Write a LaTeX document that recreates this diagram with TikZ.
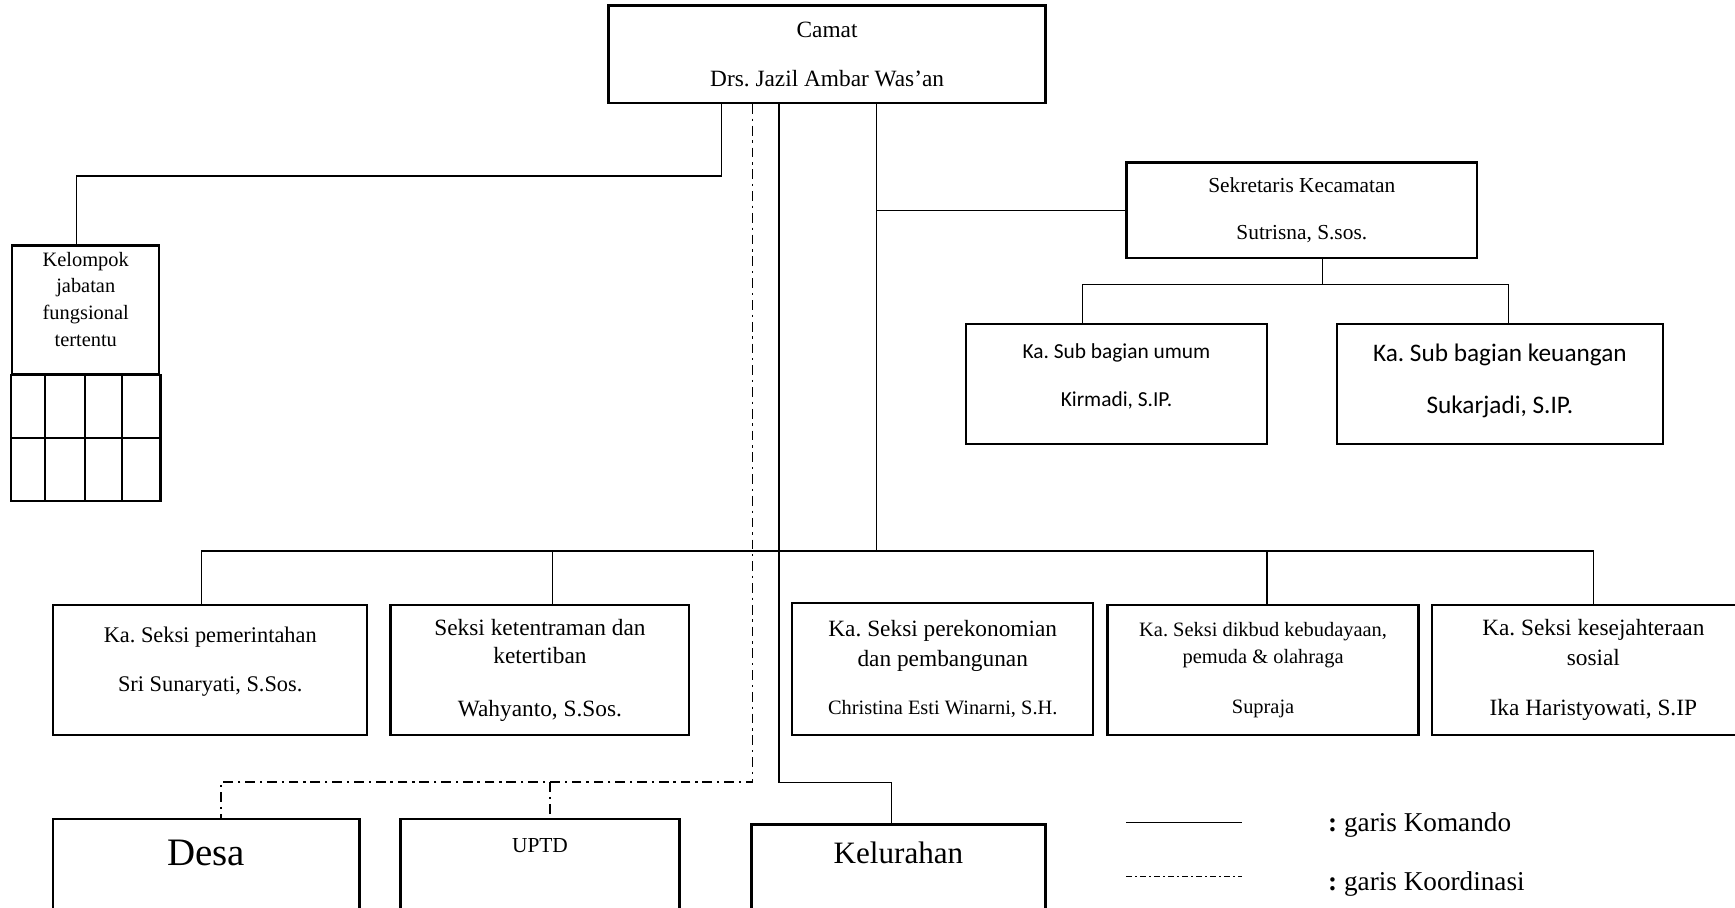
\documentclass[tikz,border=0pt]{standalone}
\usepackage{fontspec}
\setmainfont{Liberation Serif}
\newfontfamily\calibri{Carlito}
\usetikzlibrary{calc}
\newcommand{\padb}[1]{\rule[-#1]{0pt}{#1}}
\frenchspacing

\begin{document}
\begin{tikzpicture}[
    x=0.02cm, y=-0.02cm,
    box/.style={draw, rectangle, line width=1.2pt, align=center, inner sep=2pt},
    boxline/.style={line width=1.2pt},
    cmd/.style={line width=0.6pt},
    koord/.style={line width=0.9pt, dash pattern=on 5pt off 2.5pt on 1.2pt off 2.5pt},
    koordleg/.style={line width=0.8pt, dash pattern=on 3pt off 1.6pt on 1pt off 1.6pt},
    legend/.style={anchor=west, inner sep=0pt, font=\fontsize{14}{16}\selectfont}
]
\useasboundingbox (0,0) rectangle (1568,820);
\clip (0,0) rectangle (1568,820);

% Top: Camat
\node[box, minimum width=7.9cm, minimum height=1.76cm, font=\fontsize{12}{14}\selectfont] (camat) at (747.5,49) {Camat\\[11pt]Drs. Jazil Ambar Was'an};

% Left: Kelompok jabatan fungsional
\node[box, minimum width=2.66cm, minimum height=2.32cm, font=\fontsize{10.5}{13.7}\selectfont] (kelompok) at (77.5,280) {Kelompok\\jabatan\\fungsional\\tertentu\padb{11pt}};
\draw[boxline] (kelompok.south west) rectangle ($(kelompok.south east)+(0,114)$);
\draw[boxline] ($(kelompok.south west)+(0,57)$) -- ($(kelompok.south east)+(0,57)$);
\foreach \dx in {31,67,100}
    \draw[boxline] ($(kelompok.south west)+(\dx,0)$) -- ++(0,114);

% Right: Sekretaris and sub bagian
\node[box, minimum width=6.34cm, minimum height=1.72cm, font=\fontsize{11}{13}\selectfont] (sekcam) at (1176.5,190) {Sekretaris Kecamatan\\[11.5pt]Sutrisna, S.sos.};
\node[box, minimum width=5.44cm, minimum height=2.16cm, font=\calibri\fontsize{11}{13}\selectfont] (subumum) at (1009,347) {Ka. Sub bagian umum\\[12pt]Kirmadi, S.IP.\padb{9pt}};
\node[box, minimum width=5.9cm, minimum height=2.16cm, font=\calibri\fontsize{13}{15.5}\selectfont] (subkeu) at (1355.5,347) {Ka. Sub bagian keuangan\\[11.2pt]Sukarjadi, S.IP.\padb{5pt}};

% Row of seksi
\node[box, minimum width=5.68cm, minimum height=2.34cm, font=\fontsize{11.5}{14}\selectfont] (pemerintahan) at (190,605.5) {Ka. Seksi pemerintahan\\[11pt]Sri Sunaryati, S.Sos.\padb{11pt}};
\node[box, minimum width=5.4cm, minimum height=2.34cm, font=\fontsize{12}{14.8}\selectfont] (ketentraman) at (488,605.5) {Seksi ketentraman dan\\ketertiban\\[12pt]Wahyanto, S.Sos.};
\node[box, minimum width=5.44cm, minimum height=2.38cm, font=\fontsize{12}{15.4}\selectfont] (perekonomian) at (852,604.5) {Ka. Seksi perekonomian\\dan pembangunan\\[9.6pt]{\fontsize{10.5}{15.4}\selectfont Christina Esti Winarni, S.H.}};
\node[box, minimum width=5.62cm, minimum height=2.34cm, font=\fontsize{10.5}{13.7}\selectfont] (dikbud) at (1141.5,605.5) {Ka. Seksi dikbud kebudayaan,\\pemuda \& olahraga\\[12pt]Supraja};
\node[box, minimum width=5.84cm, minimum height=2.34cm, font=\fontsize{12}{15.4}\selectfont] (kesejahteraan) at (1440,605.5) {Ka. Seksi kesejahteraan\\sosial\\[10.6pt]Ika Haristyowati, S.IP};

% Bottom row
\node[box, minimum width=5.54cm, minimum height=2.4cm, font=\fontsize{20}{22}\selectfont] (desa) at (186.5,800) {Desa\padb{33pt}};
\node[box, minimum width=5.04cm, minimum height=2.4cm, font=\fontsize{11}{13}\selectfont] (uptd) at (488,800) {UPTD\padb{41pt}};
\node[box, minimum width=5.32cm, minimum height=2.4cm, font=\fontsize{16}{18}\selectfont] (kelurahan) at (812,805) {Kelurahan\padb{39pt}};

% Legend
\node[legend] (lgkom) at (1200,746) {\textbf{:} garis Komando};
\node[legend] (lgkoor) at (1200,799) {\textbf{:} garis Koordinasi};
\draw[cmd] ($(lgkom.west)+(-182,-3)$) -- ++(104,0);
\draw[koordleg] ($(lgkoor.west)+(-182,-7)$) -- ++(104,0);

% Connections
\coordinate (bus) at (792,498);
\coordinate (kcor) at (680,707);
\coordinate (kcmd) at (704,707);
\coordinate (sj) at ($(sekcam.south)+(18.5,23)$);
\coordinate (kt) at ($(ketentraman.north)+(11,0)$);
\coordinate (ku) at ($(uptd.north)+(9,0)$);

\draw[cmd] ($(camat.south west)+(103,0)$) -- ++(0,65) -| ($(kelompok.north west)+(59,0)$);
\draw[cmd] (camat.south -| bus) -- (bus);
\draw[cmd] (sekcam.west -| bus) -- (sekcam.west);
\draw[cmd] ($(pemerintahan.north)+(-8,0)$) |- (bus) -| (kesejahteraan.north);
\draw[cmd] (kt) -- (kt |- bus);
\draw[cmd] ($(dikbud.north)+(3.5,0)$) -- ($(dikbud.north |- bus)+(3.5,0)$);
\draw[cmd] ($(sekcam.south)+(18.5,0)$) -- (sj);
\draw[cmd] ($(subumum.north)+(-31,0)$) |- (sj) -| ($(subkeu.north)+(7.5,0)$);
\draw[cmd] (camat.south -| kcmd) -- (kcmd) -| ($(kelurahan.north)+(-6,0)$);
\draw[koord] (camat.south -| kcor) -- (kcor) -| ($(desa.north)+(13.5,0)$);
\draw[koord] (ku |- kcor) -- (ku);

\end{tikzpicture}
\end{document}
